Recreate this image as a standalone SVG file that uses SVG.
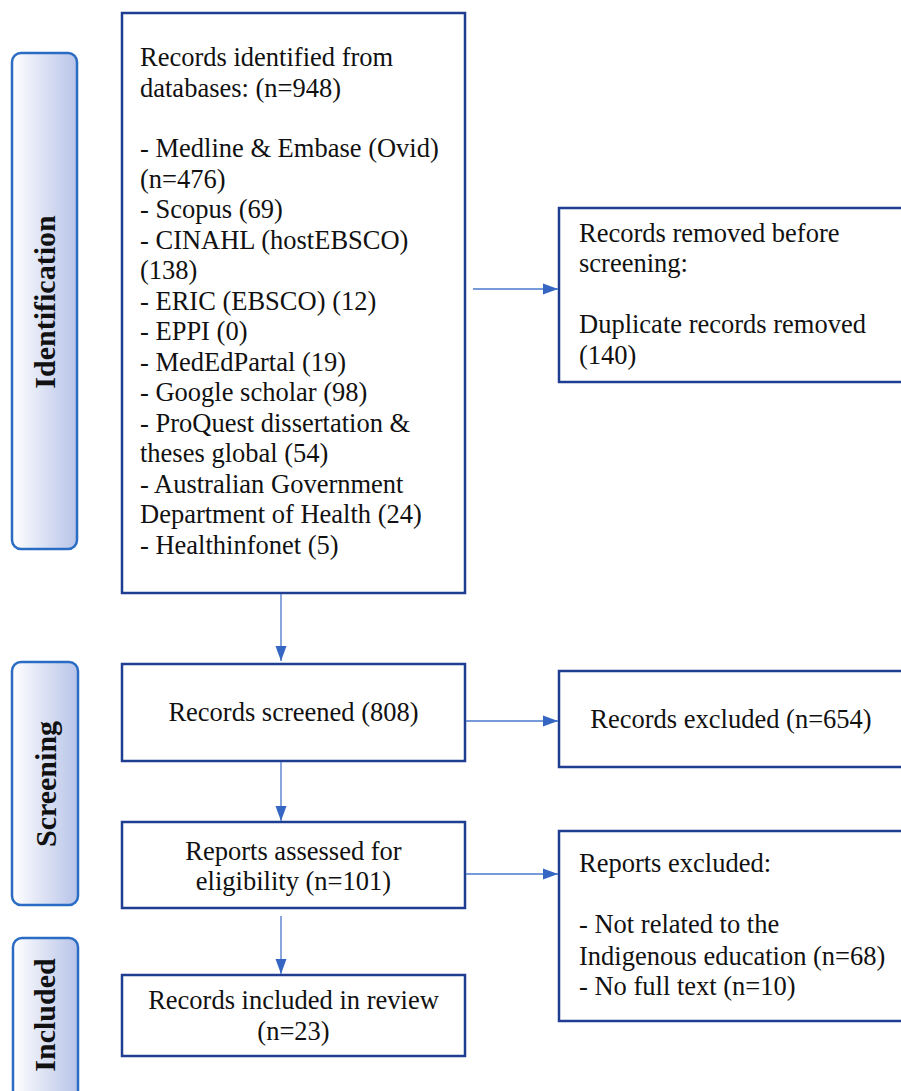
<svg xmlns="http://www.w3.org/2000/svg" width="901" height="1091" viewBox="0 0 901 1091">
<style>
.box{fill:#fff;stroke:#1f3e92;stroke-width:2.5}
.lab{fill:url(#lg);stroke:#2a6cc4;stroke-width:2.5}
.t{font-family:"Liberation Serif","Times New Roman",serif;font-size:26.5px;fill:#111}
.c{text-anchor:middle}
.lt{font-family:"Liberation Serif","Times New Roman",serif;font-size:30px;font-weight:bold;fill:#111;text-anchor:middle}
.ln{stroke:#4a78cc;stroke-width:1.3;fill:none;marker-end:url(#ah)}
</style>
<defs>
<linearGradient id="lg" x1="0" y1="0" x2="1" y2="0">
<stop offset="0" stop-color="#ffffff"/>
<stop offset="1" stop-color="#b7c3e8"/>
</linearGradient>
<marker id="ah" viewBox="0 0 15 12" refX="15" refY="6" markerWidth="15" markerHeight="12" markerUnits="userSpaceOnUse" orient="auto">
<path d="M0,0.5 L15,6 L0,11.5 Z" fill="#3566c4"/>
</marker>
</defs>

<g id="label-identification">
<rect class="lab" x="12" y="53" width="65" height="496" rx="9"/>
<text class="lt" transform="translate(55,302) rotate(-90)">Identification</text>
</g>
<g id="label-screening">
<rect class="lab" x="12" y="662" width="66" height="243" rx="9"/>
<text class="lt" transform="translate(56,784) rotate(-90)">Screening</text>
</g>
<g id="label-included">
<rect class="lab" x="13" y="938" width="65" height="170" rx="9"/>
<text class="lt" transform="translate(55,1015) rotate(-90)">Included</text>
</g>

<g id="node-identified">
<rect class="box" x="122" y="13" width="343" height="580"/>
<text class="t" x="140" y="66">Records identified from</text>
<text class="t" x="140" y="97">databases: (n=948)</text>
<text class="t" x="140" y="157">- Medline &amp; Embase (Ovid)</text>
<text class="t" x="140" y="188">(n=476)</text>
<text class="t" x="140" y="218">- Scopus (69)</text>
<text class="t" x="140" y="249">- CINAHL (hostEBSCO)</text>
<text class="t" x="140" y="279">(138)</text>
<text class="t" x="140" y="310">- ERIC (EBSCO) (12)</text>
<text class="t" x="140" y="340">- EPPI (0)</text>
<text class="t" x="140" y="371">- MedEdPartal (19)</text>
<text class="t" x="140" y="401">- Google scholar (98)</text>
<text class="t" x="140" y="432">- ProQuest dissertation &amp;</text>
<text class="t" x="140" y="462">theses global (54)</text>
<text class="t" x="140" y="493">- Australian Government</text>
<text class="t" x="140" y="523">Department of Health (24)</text>
<text class="t" x="140" y="554">- Healthinfonet (5)</text>
</g>

<g id="node-removed">
<rect class="box" x="559" y="208" width="350" height="174"/>
<text class="t" x="579" y="242">Records removed before</text>
<text class="t" x="579" y="272">screening:</text>
<text class="t" x="579" y="333">Duplicate records removed</text>
<text class="t" x="579" y="364">(140)</text>
</g>

<g id="node-screened">
<rect class="box" x="122" y="664" width="343" height="97"/>
<text class="t c" x="293.5" y="721">Records screened (808)</text>
</g>

<g id="node-excluded">
<rect class="box" x="559" y="671" width="350" height="96"/>
<text class="t c" x="731" y="728">Records excluded (n=654)</text>
</g>

<g id="node-assessed">
<rect class="box" x="122" y="822" width="343" height="86"/>
<text class="t c" x="293.5" y="860">Reports assessed for</text>
<text class="t c" x="293.5" y="890">eligibility (n=101)</text>
</g>

<g id="node-reports-excluded">
<rect class="box" x="559" y="831" width="350" height="190"/>
<text class="t" x="579" y="872">Reports excluded:</text>
<text class="t" x="579" y="933">- Not related to the</text>
<text class="t" x="579" y="965">Indigenous education (n=68)</text>
<text class="t" x="579" y="995">- No full text (n=10)</text>
</g>

<g id="node-included">
<rect class="box" x="122" y="975" width="343" height="81"/>
<text class="t c" x="293.5" y="1009">Records included in review</text>
<text class="t c" x="293.5" y="1040">(n=23)</text>
</g>

<g id="connectors">
<line class="ln" x1="473" y1="289" x2="558" y2="289"/>
<line class="ln" x1="281" y1="594" x2="281" y2="661"/>
<line class="ln" x1="466" y1="721" x2="558" y2="721"/>
<line class="ln" x1="281" y1="762" x2="281" y2="821"/>
<line class="ln" x1="466" y1="874" x2="558" y2="874"/>
<line class="ln" x1="281" y1="916" x2="281" y2="974"/>
</g>
</svg>
